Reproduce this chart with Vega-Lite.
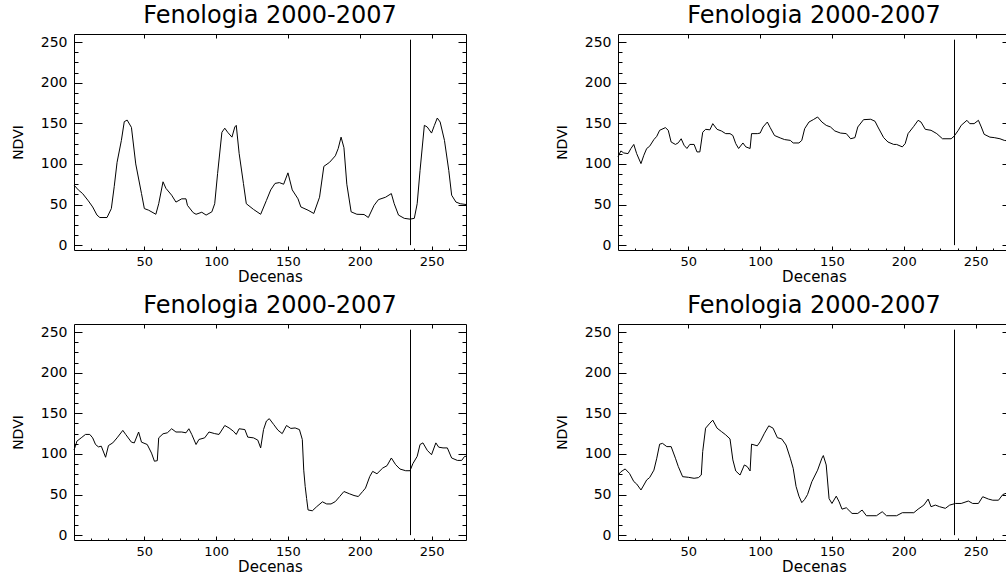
{
  "$schema": "https://vega.github.io/schema/vega-lite/v6.json",
  "background": "white",
  "padding": {"left": 10, "top": 3, "right": 0, "bottom": 0},
  "columns": 2,
  "spacing": {"row": 74, "column": 152},
  "bounds": "flush",
  "datasets": {
    "marca": [{"decena": 235.35, "desde": 0, "hasta": 253}],
    "s1": [
      {"decena":1,"ndvi":74},{"decena":4,"ndvi":68},{"decena":7,"ndvi":63.5},{"decena":11,"ndvi":54.5},{"decena":14,"ndvi":47},{"decena":17,"ndvi":37},{"decena":19,"ndvi":34},{"decena":24,"ndvi":34},{"decena":27,"ndvi":45},{"decena":29,"ndvi":72},{"decena":31,"ndvi":102},{"decena":34,"ndvi":129},{"decena":36,"ndvi":152},{"decena":38,"ndvi":154},{"decena":41,"ndvi":145},{"decena":44,"ndvi":100},{"decena":48,"ndvi":63.5},{"decena":50,"ndvi":45},{"decena":53,"ndvi":43},{"decena":58,"ndvi":38},{"decena":60,"ndvi":51},{"decena":63,"ndvi":78},{"decena":65,"ndvi":70},{"decena":69,"ndvi":61.5},{"decena":72,"ndvi":53},{"decena":76,"ndvi":57},{"decena":79,"ndvi":57},{"decena":80,"ndvi":49},{"decena":84,"ndvi":40},{"decena":86,"ndvi":38},{"decena":90,"ndvi":40.5},{"decena":93,"ndvi":37},{"decena":97,"ndvi":41},{"decena":99,"ndvi":51},{"decena":101,"ndvi":88},{"decena":104,"ndvi":139},{"decena":106,"ndvi":144},{"decena":108,"ndvi":139},{"decena":111,"ndvi":133},{"decena":113,"ndvi":145.5},{"decena":114,"ndvi":147.5},{"decena":116,"ndvi":113},{"decena":119,"ndvi":76},{"decena":121,"ndvi":51},{"decena":126,"ndvi":44},{"decena":131,"ndvi":38},{"decena":135,"ndvi":55},{"decena":138,"ndvi":68},{"decena":141,"ndvi":76},{"decena":144,"ndvi":77},{"decena":147,"ndvi":75},{"decena":150,"ndvi":89},{"decena":153,"ndvi":68},{"decena":157,"ndvi":57},{"decena":159,"ndvi":47},{"decena":164,"ndvi":43},{"decena":168,"ndvi":39},{"decena":172,"ndvi":59},{"decena":175,"ndvi":97},{"decena":179,"ndvi":102},{"decena":183,"ndvi":110},{"decena":185,"ndvi":119},{"decena":187,"ndvi":133},{"decena":189,"ndvi":120},{"decena":191,"ndvi":75},{"decena":194,"ndvi":41},{"decena":198,"ndvi":38},{"decena":203,"ndvi":37.7},{"decena":206,"ndvi":34},{"decena":210,"ndvi":49},{"decena":213,"ndvi":56},{"decena":218,"ndvi":59},{"decena":222,"ndvi":63.5},{"decena":224,"ndvi":51},{"decena":227,"ndvi":37},{"decena":231,"ndvi":33},{"decena":235,"ndvi":32},{"decena":238,"ndvi":33},{"decena":240,"ndvi":51},{"decena":242,"ndvi":92},{"decena":245,"ndvi":147.5},{"decena":247,"ndvi":145.5},{"decena":250,"ndvi":138},{"decena":252,"ndvi":147.5},{"decena":254,"ndvi":156.5},{"decena":256,"ndvi":151.6},{"decena":259,"ndvi":129},{"decena":262,"ndvi":92},{"decena":264,"ndvi":61.5},{"decena":267,"ndvi":53},{"decena":270,"ndvi":51},{"decena":274,"ndvi":50}
    ],
    "s2": [
      {"decena":1,"ndvi":108.6},{"decena":3,"ndvi":116},{"decena":5,"ndvi":113.5},{"decena":8,"ndvi":112.7},{"decena":10,"ndvi":119},{"decena":12,"ndvi":124},{"decena":14,"ndvi":112.7},{"decena":17,"ndvi":100.4},{"decena":19,"ndvi":110.7},{"decena":21,"ndvi":119},{"decena":23,"ndvi":121.7},{"decena":26,"ndvi":130},{"decena":28,"ndvi":134},{"decena":30,"ndvi":141.4},{"decena":34,"ndvi":144.7},{"decena":36,"ndvi":141.4},{"decena":38,"ndvi":127},{"decena":41,"ndvi":124},{"decena":43,"ndvi":126},{"decena":45,"ndvi":131},{"decena":47,"ndvi":123},{"decena":49,"ndvi":119},{"decena":51,"ndvi":124},{"decena":54,"ndvi":124},{"decena":56,"ndvi":114.8},{"decena":58,"ndvi":114.8},{"decena":60,"ndvi":139},{"decena":62,"ndvi":142.6},{"decena":65,"ndvi":142},{"decena":67,"ndvi":149.6},{"decena":70,"ndvi":142.6},{"decena":73,"ndvi":140.6},{"decena":76,"ndvi":137.3},{"decena":79,"ndvi":137.3},{"decena":81,"ndvi":135},{"decena":83,"ndvi":125},{"decena":85,"ndvi":119},{"decena":88,"ndvi":125.8},{"decena":90,"ndvi":121},{"decena":93,"ndvi":119},{"decena":94,"ndvi":137.3},{"decena":98,"ndvi":137.3},{"decena":100,"ndvi":138},{"decena":102,"ndvi":145.5},{"decena":105,"ndvi":151.6},{"decena":107,"ndvi":144.7},{"decena":110,"ndvi":135},{"decena":114,"ndvi":132},{"decena":117,"ndvi":130},{"decena":121,"ndvi":129},{"decena":123,"ndvi":125.8},{"decena":127,"ndvi":125.8},{"decena":129,"ndvi":129},{"decena":131,"ndvi":143.4},{"decena":134,"ndvi":151.6},{"decena":137,"ndvi":154.5},{"decena":140,"ndvi":157.8},{"decena":143,"ndvi":151.6},{"decena":146,"ndvi":147.5},{"decena":149,"ndvi":145.5},{"decena":152,"ndvi":140.6},{"decena":156,"ndvi":138},{"decena":160,"ndvi":137.3},{"decena":163,"ndvi":131},{"decena":166,"ndvi":132.4},{"decena":168,"ndvi":145.5},{"decena":172,"ndvi":154.5},{"decena":177,"ndvi":155},{"decena":180,"ndvi":152.5},{"decena":182,"ndvi":145.5},{"decena":186,"ndvi":132.4},{"decena":189,"ndvi":127},{"decena":193,"ndvi":124},{"decena":195,"ndvi":124},{"decena":199,"ndvi":121},{"decena":201,"ndvi":125},{"decena":203,"ndvi":137.3},{"decena":207,"ndvi":146.3},{"decena":210,"ndvi":153.7},{"decena":212,"ndvi":151.6},{"decena":215,"ndvi":142.6},{"decena":219,"ndvi":141.4},{"decena":223,"ndvi":137.3},{"decena":227,"ndvi":131},{"decena":233,"ndvi":131},{"decena":235,"ndvi":134},{"decena":238,"ndvi":141.4},{"decena":240,"ndvi":147.5},{"decena":244,"ndvi":153.7},{"decena":246,"ndvi":149.6},{"decena":249,"ndvi":149.6},{"decena":252,"ndvi":153.7},{"decena":254,"ndvi":145.5},{"decena":256,"ndvi":136.5},{"decena":260,"ndvi":133},{"decena":263,"ndvi":132.4},{"decena":267,"ndvi":131},{"decena":270,"ndvi":129},{"decena":274,"ndvi":128}
    ],
    "s3": [
      {"decena":1,"ndvi":105},{"decena":2,"ndvi":109.5},{"decena":3,"ndvi":115.7},{"decena":6,"ndvi":119.8},{"decena":9,"ndvi":124},{"decena":12,"ndvi":124},{"decena":14,"ndvi":119.8},{"decena":16,"ndvi":111.6},{"decena":18,"ndvi":108.7},{"decena":20,"ndvi":109.5},{"decena":23,"ndvi":95.9},{"decena":25,"ndvi":110.3},{"decena":28,"ndvi":113.6},{"decena":31,"ndvi":119.8},{"decena":35,"ndvi":129},{"decena":37,"ndvi":124},{"decena":41,"ndvi":114.5},{"decena":43,"ndvi":113.6},{"decena":46,"ndvi":127},{"decena":48,"ndvi":114.5},{"decena":52,"ndvi":111.6},{"decena":55,"ndvi":101},{"decena":57,"ndvi":91},{"decena":59,"ndvi":91.7},{"decena":60,"ndvi":119.8},{"decena":63,"ndvi":124.8},{"decena":66,"ndvi":126},{"decena":69,"ndvi":131},{"decena":72,"ndvi":127},{"decena":76,"ndvi":127},{"decena":79,"ndvi":126},{"decena":81,"ndvi":131},{"decena":83,"ndvi":124},{"decena":86,"ndvi":111.6},{"decena":88,"ndvi":117.8},{"decena":92,"ndvi":119.8},{"decena":95,"ndvi":127},{"decena":99,"ndvi":125},{"decena":102,"ndvi":124},{"decena":106,"ndvi":135},{"decena":109,"ndvi":132},{"decena":112,"ndvi":128},{"decena":114,"ndvi":124},{"decena":116,"ndvi":131},{"decena":120,"ndvi":130},{"decena":122,"ndvi":120.7},{"decena":126,"ndvi":119.8},{"decena":129,"ndvi":117},{"decena":131,"ndvi":107.4},{"decena":133,"ndvi":130},{"decena":135,"ndvi":140.5},{"decena":137,"ndvi":143.4},{"decena":140,"ndvi":136.4},{"decena":143,"ndvi":129.3},{"decena":146,"ndvi":125},{"decena":149,"ndvi":135},{"decena":152,"ndvi":131.4},{"decena":155,"ndvi":132},{"decena":158,"ndvi":130},{"decena":160,"ndvi":117.8},{"decena":161,"ndvi":80},{"decena":162,"ndvi":60},{"decena":163,"ndvi":45},{"decena":164,"ndvi":31},{"decena":167,"ndvi":30},{"decena":170,"ndvi":35},{"decena":174,"ndvi":41},{"decena":177,"ndvi":38.4},{"decena":180,"ndvi":38.4},{"decena":183,"ndvi":41.3},{"decena":186,"ndvi":47.5},{"decena":189,"ndvi":53.7},{"decena":193,"ndvi":50.8},{"decena":196,"ndvi":48.8},{"decena":199,"ndvi":47.5},{"decena":202,"ndvi":53.7},{"decena":204,"ndvi":57.9},{"decena":207,"ndvi":72.3},{"decena":209,"ndvi":78.5},{"decena":212,"ndvi":75.6},{"decena":216,"ndvi":82.6},{"decena":219,"ndvi":85.5},{"decena":222,"ndvi":95},{"decena":225,"ndvi":86.8},{"decena":228,"ndvi":81.4},{"decena":232,"ndvi":79.3},{"decena":235,"ndvi":79.3},{"decena":237,"ndvi":88},{"decena":240,"ndvi":97},{"decena":242,"ndvi":111.6},{"decena":244,"ndvi":113.6},{"decena":247,"ndvi":104.5},{"decena":250,"ndvi":99},{"decena":253,"ndvi":113.6},{"decena":255,"ndvi":108.3},{"decena":258,"ndvi":107.4},{"decena":261,"ndvi":107.4},{"decena":264,"ndvi":95},{"decena":268,"ndvi":92},{"decena":271,"ndvi":92},{"decena":273,"ndvi":97},{"decena":274,"ndvi":97}
    ],
    "s4": [
      {"decena":1,"ndvi":74},{"decena":3,"ndvi":78},{"decena":6,"ndvi":81.5},{"decena":9,"ndvi":76},{"decena":12,"ndvi":66},{"decena":14,"ndvi":63},{"decena":17,"ndvi":55.6},{"decena":19,"ndvi":61.7},{"decena":21,"ndvi":68},{"decena":23,"ndvi":70.8},{"decena":26,"ndvi":80},{"decena":28,"ndvi":94.7},{"decena":30,"ndvi":112},{"decena":32,"ndvi":113},{"decena":35,"ndvi":109},{"decena":38,"ndvi":109},{"decena":41,"ndvi":94.7},{"decena":43,"ndvi":84.4},{"decena":46,"ndvi":72},{"decena":50,"ndvi":71.2},{"decena":54,"ndvi":70},{"decena":57,"ndvi":70.8},{"decena":59,"ndvi":74},{"decena":60,"ndvi":103},{"decena":62,"ndvi":131.7},{"decena":65,"ndvi":137.9},{"decena":67,"ndvi":141.6},{"decena":70,"ndvi":131.7},{"decena":73,"ndvi":127.6},{"decena":76,"ndvi":123.5},{"decena":79,"ndvi":118.5},{"decena":81,"ndvi":92.6},{"decena":83,"ndvi":79},{"decena":86,"ndvi":74},{"decena":89,"ndvi":86.4},{"decena":91,"ndvi":84.4},{"decena":93,"ndvi":79},{"decena":94,"ndvi":112},{"decena":98,"ndvi":110},{"decena":100,"ndvi":115},{"decena":103,"ndvi":125.5},{"decena":106,"ndvi":134.6},{"decena":109,"ndvi":131.7},{"decena":112,"ndvi":120},{"decena":115,"ndvi":118.5},{"decena":118,"ndvi":111},{"decena":121,"ndvi":94.7},{"decena":123,"ndvi":82.3},{"decena":125,"ndvi":60},{"decena":127,"ndvi":48},{"decena":129,"ndvi":40},{"decena":131,"ndvi":44},{"decena":133,"ndvi":50},{"decena":136,"ndvi":65.8},{"decena":140,"ndvi":80},{"decena":143,"ndvi":94.7},{"decena":144,"ndvi":98},{"decena":146,"ndvi":86.4},{"decena":148,"ndvi":45},{"decena":150,"ndvi":39},{"decena":153,"ndvi":48},{"decena":155,"ndvi":41},{"decena":157,"ndvi":32},{"decena":160,"ndvi":33.7},{"decena":164,"ndvi":26.7},{"decena":168,"ndvi":26.7},{"decena":171,"ndvi":30.9},{"decena":174,"ndvi":23.9},{"decena":181,"ndvi":23.9},{"decena":185,"ndvi":28.8},{"decena":188,"ndvi":23.9},{"decena":195,"ndvi":23.9},{"decena":199,"ndvi":27.6},{"decena":207,"ndvi":27.6},{"decena":210,"ndvi":32},{"decena":214,"ndvi":37},{"decena":217,"ndvi":44.4},{"decena":219,"ndvi":35},{"decena":222,"ndvi":37},{"decena":225,"ndvi":35},{"decena":229,"ndvi":33},{"decena":232,"ndvi":37},{"decena":236,"ndvi":39},{"decena":240,"ndvi":39},{"decena":245,"ndvi":42},{"decena":248,"ndvi":39},{"decena":252,"ndvi":39},{"decena":255,"ndvi":47.3},{"decena":259,"ndvi":44.4},{"decena":262,"ndvi":43},{"decena":266,"ndvi":43},{"decena":269,"ndvi":50},{"decena":272,"ndvi":52},{"decena":274,"ndvi":53}
    ]
  },
  "concat": [
    {
      "width": 392, "height": 216,
      "title": "Fenologia 2000-2007",
      "resolve": {"axis": {"x": "independent", "y": "independent"}},
      "layer": [
        {"data": {"name": "s1"}, "mark": {"type": "line", "color": "#000", "strokeWidth": 1},
         "encoding": {
           "x": {"field": "decena", "type": "quantitative", "scale": {"domain": [1, 274], "nice": false, "zero": false},
                 "axis": {"orient": "bottom", "values": [50,100,150,200,250], "ticks": false, "labelPadding": 5, "labelFontSize": 13, "labelFlush": false, "title": "Decenas", "titleY": 31, "titleBaseline": "alphabetic", "titleFontSize": 15}},
           "y": {"field": "ndvi", "type": "quantitative", "scale": {"domain": [-6, 260], "nice": false, "zero": false},
                 "axis": {"orient": "left", "values": [0,50,100,150,200,250], "ticks": false, "labelPadding": 7, "title": "NDVI", "titleX": -52, "titleY": 108, "titleAngle": 270, "titleAlign": "center", "titleBaseline": "alphabetic", "titleFontSize": 14}}
         }},
        {"data": {"name": "marca"}, "mark": {"type": "rule", "color": "#000", "strokeWidth": 1},
         "encoding": {
           "x": {"field": "decena", "type": "quantitative", "axis": {"orient": "bottom", "values": [12.5,25,37.5,50,62.5,75,87.5,100,112.5,125,137.5,150,162.5,175,187.5,200,212.5,225,237.5,250,262.5], "labels": false, "title": null, "tickSize": {"condition": {"test": "datum.value % 50 === 0", "value": -4}, "value": -2}}},
           "y": {"field": "desde", "type": "quantitative", "axis": {"orient": "left", "values": [0,12.5,25,37.5,50,62.5,75,87.5,100,112.5,125,137.5,150,162.5,175,187.5,200,212.5,225,237.5,250], "labels": false, "title": null, "tickSize": {"condition": {"test": "datum.value % 50 === 0", "value": -8}, "value": -4}}},
           "y2": {"field": "hasta"}
         }},
        {"data": {"name": "marca"}, "mark": {"type": "rule", "opacity": 0},
         "encoding": {
           "x": {"field": "decena", "type": "quantitative", "axis": {"orient": "top", "values": [50,100,150,200,250], "labels": false, "title": null, "tickSize": -4}},
           "y": {"field": "desde", "type": "quantitative", "axis": {"orient": "right", "values": [0,12.5,25,37.5,50,62.5,75,87.5,100,112.5,125,137.5,150,162.5,175,187.5,200,212.5,225,237.5,250], "labels": false, "title": null, "tickSize": {"condition": {"test": "datum.value % 50 === 0", "value": -8}, "value": -4}}},
           "y2": {"field": "hasta"}
         }}
      ]
    },
    {
      "width": 392, "height": 216,
      "title": "Fenologia 2000-2007",
      "resolve": {"axis": {"x": "independent", "y": "independent"}},
      "layer": [
        {"data": {"name": "s2"}, "mark": {"type": "line", "color": "#000", "strokeWidth": 1},
         "encoding": {
           "x": {"field": "decena", "type": "quantitative", "scale": {"domain": [1, 274], "nice": false, "zero": false},
                 "axis": {"orient": "bottom", "values": [50,100,150,200,250], "ticks": false, "labelPadding": 5, "labelFontSize": 13, "labelFlush": false, "title": "Decenas", "titleY": 31, "titleBaseline": "alphabetic", "titleFontSize": 15}},
           "y": {"field": "ndvi", "type": "quantitative", "scale": {"domain": [-6, 260], "nice": false, "zero": false},
                 "axis": {"orient": "left", "values": [0,50,100,150,200,250], "ticks": false, "labelPadding": 7, "title": "NDVI", "titleX": -52, "titleY": 108, "titleAngle": 270, "titleAlign": "center", "titleBaseline": "alphabetic", "titleFontSize": 14}}
         }},
        {"data": {"name": "marca"}, "mark": {"type": "rule", "color": "#000", "strokeWidth": 1},
         "encoding": {
           "x": {"field": "decena", "type": "quantitative", "axis": {"orient": "bottom", "values": [12.5,25,37.5,50,62.5,75,87.5,100,112.5,125,137.5,150,162.5,175,187.5,200,212.5,225,237.5,250,262.5], "labels": false, "title": null, "tickSize": {"condition": {"test": "datum.value % 50 === 0", "value": -4}, "value": -2}}},
           "y": {"field": "desde", "type": "quantitative", "axis": {"orient": "left", "values": [0,12.5,25,37.5,50,62.5,75,87.5,100,112.5,125,137.5,150,162.5,175,187.5,200,212.5,225,237.5,250], "labels": false, "title": null, "tickSize": {"condition": {"test": "datum.value % 50 === 0", "value": -8}, "value": -4}}},
           "y2": {"field": "hasta"}
         }},
        {"data": {"name": "marca"}, "mark": {"type": "rule", "opacity": 0},
         "encoding": {
           "x": {"field": "decena", "type": "quantitative", "axis": {"orient": "top", "values": [50,100,150,200,250], "labels": false, "title": null, "tickSize": -4}},
           "y": {"field": "desde", "type": "quantitative", "axis": {"orient": "right", "values": [0,12.5,25,37.5,50,62.5,75,87.5,100,112.5,125,137.5,150,162.5,175,187.5,200,212.5,225,237.5,250], "labels": false, "title": null, "tickSize": {"condition": {"test": "datum.value % 50 === 0", "value": -8}, "value": -4}}},
           "y2": {"field": "hasta"}
         }}
      ]
    },
    {
      "width": 392, "height": 216,
      "title": "Fenologia 2000-2007",
      "resolve": {"axis": {"x": "independent", "y": "independent"}},
      "layer": [
        {"data": {"name": "s3"}, "mark": {"type": "line", "color": "#000", "strokeWidth": 1},
         "encoding": {
           "x": {"field": "decena", "type": "quantitative", "scale": {"domain": [1, 274], "nice": false, "zero": false},
                 "axis": {"orient": "bottom", "values": [50,100,150,200,250], "ticks": false, "labelPadding": 5, "labelFontSize": 13, "labelFlush": false, "title": "Decenas", "titleY": 31, "titleBaseline": "alphabetic", "titleFontSize": 15}},
           "y": {"field": "ndvi", "type": "quantitative", "scale": {"domain": [-6, 260], "nice": false, "zero": false},
                 "axis": {"orient": "left", "values": [0,50,100,150,200,250], "ticks": false, "labelPadding": 7, "title": "NDVI", "titleX": -52, "titleY": 108, "titleAngle": 270, "titleAlign": "center", "titleBaseline": "alphabetic", "titleFontSize": 14}}
         }},
        {"data": {"name": "marca"}, "mark": {"type": "rule", "color": "#000", "strokeWidth": 1},
         "encoding": {
           "x": {"field": "decena", "type": "quantitative", "axis": {"orient": "bottom", "values": [12.5,25,37.5,50,62.5,75,87.5,100,112.5,125,137.5,150,162.5,175,187.5,200,212.5,225,237.5,250,262.5], "labels": false, "title": null, "tickSize": {"condition": {"test": "datum.value % 50 === 0", "value": -4}, "value": -2}}},
           "y": {"field": "desde", "type": "quantitative", "axis": {"orient": "left", "values": [0,12.5,25,37.5,50,62.5,75,87.5,100,112.5,125,137.5,150,162.5,175,187.5,200,212.5,225,237.5,250], "labels": false, "title": null, "tickSize": {"condition": {"test": "datum.value % 50 === 0", "value": -8}, "value": -4}}},
           "y2": {"field": "hasta"}
         }},
        {"data": {"name": "marca"}, "mark": {"type": "rule", "opacity": 0},
         "encoding": {
           "x": {"field": "decena", "type": "quantitative", "axis": {"orient": "top", "values": [50,100,150,200,250], "labels": false, "title": null, "tickSize": -4}},
           "y": {"field": "desde", "type": "quantitative", "axis": {"orient": "right", "values": [0,12.5,25,37.5,50,62.5,75,87.5,100,112.5,125,137.5,150,162.5,175,187.5,200,212.5,225,237.5,250], "labels": false, "title": null, "tickSize": {"condition": {"test": "datum.value % 50 === 0", "value": -8}, "value": -4}}},
           "y2": {"field": "hasta"}
         }}
      ]
    },
    {
      "width": 392, "height": 216,
      "title": "Fenologia 2000-2007",
      "resolve": {"axis": {"x": "independent", "y": "independent"}},
      "layer": [
        {"data": {"name": "s4"}, "mark": {"type": "line", "color": "#000", "strokeWidth": 1},
         "encoding": {
           "x": {"field": "decena", "type": "quantitative", "scale": {"domain": [1, 274], "nice": false, "zero": false},
                 "axis": {"orient": "bottom", "values": [50,100,150,200,250], "ticks": false, "labelPadding": 5, "labelFontSize": 13, "labelFlush": false, "title": "Decenas", "titleY": 31, "titleBaseline": "alphabetic", "titleFontSize": 15}},
           "y": {"field": "ndvi", "type": "quantitative", "scale": {"domain": [-6, 260], "nice": false, "zero": false},
                 "axis": {"orient": "left", "values": [0,50,100,150,200,250], "ticks": false, "labelPadding": 7, "title": "NDVI", "titleX": -52, "titleY": 108, "titleAngle": 270, "titleAlign": "center", "titleBaseline": "alphabetic", "titleFontSize": 14}}
         }},
        {"data": {"name": "marca"}, "mark": {"type": "rule", "color": "#000", "strokeWidth": 1},
         "encoding": {
           "x": {"field": "decena", "type": "quantitative", "axis": {"orient": "bottom", "values": [12.5,25,37.5,50,62.5,75,87.5,100,112.5,125,137.5,150,162.5,175,187.5,200,212.5,225,237.5,250,262.5], "labels": false, "title": null, "tickSize": {"condition": {"test": "datum.value % 50 === 0", "value": -4}, "value": -2}}},
           "y": {"field": "desde", "type": "quantitative", "axis": {"orient": "left", "values": [0,12.5,25,37.5,50,62.5,75,87.5,100,112.5,125,137.5,150,162.5,175,187.5,200,212.5,225,237.5,250], "labels": false, "title": null, "tickSize": {"condition": {"test": "datum.value % 50 === 0", "value": -8}, "value": -4}}},
           "y2": {"field": "hasta"}
         }},
        {"data": {"name": "marca"}, "mark": {"type": "rule", "opacity": 0},
         "encoding": {
           "x": {"field": "decena", "type": "quantitative", "axis": {"orient": "top", "values": [50,100,150,200,250], "labels": false, "title": null, "tickSize": -4}},
           "y": {"field": "desde", "type": "quantitative", "axis": {"orient": "right", "values": [0,12.5,25,37.5,50,62.5,75,87.5,100,112.5,125,137.5,150,162.5,175,187.5,200,212.5,225,237.5,250], "labels": false, "title": null, "tickSize": {"condition": {"test": "datum.value % 50 === 0", "value": -8}, "value": -4}}},
           "y2": {"field": "hasta"}
         }}
      ]
    }
  ],
  "config": {
    "font": "DejaVu Sans",
    "view": {"stroke": "#000", "strokeWidth": 1},
    "axis": {"labelFont": "DejaVu Sans", "labelFontSize": 14, "labelColor": "#000", "titleFont": "DejaVu Sans", "titleFontWeight": "normal", "titleColor": "#000", "tickColor": "#000", "tickWidth": 1, "grid": false, "domain": false, "labelOverlap": false},
    "title": {"font": "DejaVu Sans", "fontSize": 24, "fontWeight": "normal", "color": "#000", "anchor": "middle", "baseline": "alphabetic", "offset": 6}
  }
}
